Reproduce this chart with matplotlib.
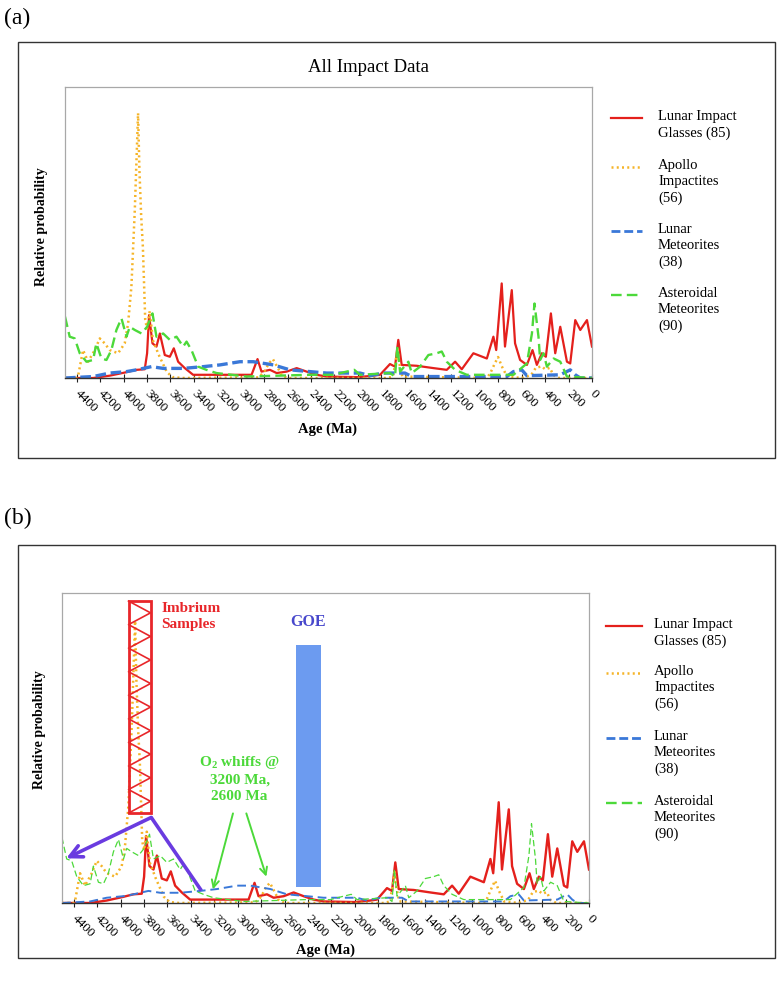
import numpy as np
import matplotlib
matplotlib.use("Agg")
import matplotlib.pyplot as plt
from matplotlib.lines import Line2D
from matplotlib.patches import Rectangle

plt.rcParams['font.family'] = ['Liberation Serif', 'DejaVu Serif']
plt.rcParams['mathtext.fontset'] = 'custom'
plt.rcParams['mathtext.rm'] = 'Liberation Serif'
plt.rcParams['mathtext.bf'] = 'Liberation Serif:bold'

# ---------------- data (age in Ma, relative probability) ----------------
RED_AGE = [4500, 4260, 4118, 3975, 3890, 3819, 3799, 3782, 3753, 3719, 3690, 3648, 3605, 3571, 3534,
           3477, 3406, 2907, 2856, 2822, 2750, 2693, 2607, 2522, 2437, 2352, 2266, 2000, 1867, 1810,
           1725, 1682, 1654, 1625, 1497, 1354, 1240, 1169, 1112, 1013, 898, 842, 818, 771, 743, 685,
           657, 614, 556, 508, 471, 428, 394, 351, 314, 271, 214, 186, 143, 100, 43, 0]
RED_VAL = [0.0, 0.0, 0.008, 0.02, 0.028, 0.03, 0.085, 0.216, 0.119, 0.108, 0.153, 0.079, 0.073, 0.102,
           0.056, 0.034, 0.011, 0.011, 0.065, 0.022, 0.028, 0.017, 0.022, 0.034, 0.022, 0.011, 0.005,
           0.003, 0.008, 0.011, 0.048, 0.039, 0.131, 0.045, 0.042, 0.034, 0.028, 0.056, 0.030, 0.085,
           0.067, 0.142, 0.096, 0.325, 0.108, 0.302, 0.119, 0.062, 0.045, 0.096, 0.045, 0.085, 0.073,
           0.222, 0.085, 0.176, 0.056, 0.05, 0.199, 0.165, 0.199, 0.108]

ORANGE_AGE = [4500, 4400, 4389, 4346, 4303, 4246, 4203, 4161, 4118, 4047, 3990, 3961, 3933, 3904,
              3876, 3865, 3850, 3835, 3815, 3800, 3776, 3750, 3700, 3630, 3580, 3500, 2850, 2800,
              2760, 2725, 2690, 2650, 2600, 1750, 1700, 1675, 1660, 1645, 1620, 900, 870, 830, 802,
              770, 725, 600, 520, 480, 430, 400, 360, 330, 280, 0]
ORANGE_VAL = [0, 0, 0.005, 0.096, 0.056, 0.096, 0.136, 0.119, 0.096, 0.085, 0.119, 0.188, 0.314,
              0.577, 0.91, 0.72, 0.56, 0.45, 0.2, 0.17, 0.23, 0.13, 0.08, 0.02, 0.003, 0, 0.002, 0.02,
              0.05, 0.065, 0.04, 0.01, 0, 0, 0.005, 0.06, 0.1, 0.05, 0.005, 0, 0.015, 0.05, 0.072,
              0.04, 0.005, 0, 0.01, 0.035, 0.04, 0.03, 0.035, 0.01, 0, 0]

BLUE_AGE = [4500, 4260, 4118, 3975, 3890, 3762, 3662, 3491, 3320, 3177, 3006, 2892, 2721, 2579, 2409,
            2266, 1981, 1896, 1782, 1668, 1597, 1539, 727, 671, 600, 556, 271, 186, 143, 100, 0]
BLUE_VAL = [0.0, 0.005, 0.017, 0.022, 0.028, 0.039, 0.033, 0.033, 0.039, 0.045, 0.056, 0.056, 0.045,
            0.028, 0.022, 0.017, 0.017, 0.008, 0.017, 0.017, 0.017, 0.005, 0.005, 0.022, 0.028, 0.008,
            0.011, 0.028, 0.011, 0.0, 0.0]

GREEN_AGE = [4500, 4460, 4417, 4374, 4317, 4260, 4232, 4189, 4146, 4104, 4061, 4018, 3975, 3947, 3904,
             3847, 3799, 3753, 3719, 3662, 3605, 3548, 3491, 3462, 3420, 3363, 3292, 3206, 2950, 2409,
             2209, 2095, 2030, 1981, 1725, 1682, 1662, 1639, 1568, 1539, 1468, 1397, 1326, 1283, 1240,
             1169, 1069, 671, 556, 513, 491, 457, 443, 414, 385, 328, 271, 214, 0]
GREEN_VAL = [0.211, 0.142, 0.136, 0.085, 0.056, 0.062, 0.119, 0.067, 0.062, 0.096, 0.165, 0.205, 0.142,
             0.176, 0.165, 0.153, 0.176, 0.222, 0.142, 0.153, 0.131, 0.142, 0.108, 0.125, 0.096, 0.039,
             0.028, 0.017, 0.005, 0.011, 0.011, 0.022, 0.028, 0.011, 0.017, 0.005, 0.108, 0.022, 0.056,
             0.017, 0.039, 0.079, 0.085, 0.091, 0.056, 0.028, 0.011, 0.011, 0.05, 0.153, 0.256, 0.142,
             0.062, 0.085, 0.039, 0.067, 0.056, 0.005, 0.0]

TICKS = [4400, 4200, 4000, 3800, 3600, 3400, 3200, 3000, 2800, 2600, 2400, 2200, 2000, 1800, 1600,
         1400, 1200, 1000, 800, 600, 400, 200, 0]
TICK_LABELS = [str(t) for t in TICKS]

LEGEND_LABELS = ['Lunar Impact\nGlasses (85)', 'Apollo\nImpactites\n(56)',
                 'Lunar\nMeteorites\n(38)', 'Asteroidal\nMeteorites\n(90)']

RED = '#e4201c'
ORANGE = '#f5b428'
BLUE = '#3a78d8'
GREEN = '#4cd93a'
PURPLE = '#6a3be0'
GOE_BLUE = '#6c9bf0'

W, H = 778, 990
fig = plt.figure(figsize=(W / 100, H / 100), dpi=100)


def fx(x):
    return x / W


def fy(y):
    return 1 - y / H


def axes_px(l, t, r, b):
    return fig.add_axes([fx(l), fy(b), (r - l) / W, (b - t) / H])


def outer_box(l, t, r, b):
    fig.add_artist(Rectangle((fx(l), fy(b)), (r - l) / W, (b - t) / H, transform=fig.transFigure,
                             fill=False, edgecolor='#333333', lw=1.0))


THICK_STYLES = [dict(color=RED, lw=1.6, ls='-'),
                dict(color=ORANGE, lw=1.8, ls=(0, (0.8, 1.3))),
                dict(color=BLUE, lw=2.4, ls=(0, (3.2, 1.4))),
                dict(color=GREEN, lw=1.7, ls=(0, (4.5, 2.2)))]
THIN_STYLES = [dict(color=RED, lw=1.7, ls='-'),
               dict(color=ORANGE, lw=1.8, ls=(0, (0.8, 1.3))),
               dict(color=BLUE, lw=1.4, ls=(0, (4.5, 2.5))),
               dict(color=GREEN, lw=0.9, ls=(0, (5, 2.5)))]


def draw_panel(ax, styles):
    series = [(RED_AGE, RED_VAL), (ORANGE_AGE, ORANGE_VAL), (BLUE_AGE, BLUE_VAL), (GREEN_AGE, GREEN_VAL)]
    for (a, v), st in zip(series, styles):
        ax.plot(a, v, solid_joinstyle='round', **st)
    ax.set_xlim(4500, 0)
    ax.set_ylim(0, 1)
    ax.set_yticks([])
    ax.set_xticks(TICKS)
    ax.set_xticklabels(TICK_LABELS, rotation=-45, ha='left', va='center', rotation_mode='anchor',
                       fontsize=9.5)
    ax.tick_params(axis='x', direction='inout', length=6, width=0.8, color='#222222', pad=7)
    for s in ['left', 'right', 'top']:
        ax.spines[s].set_color('#a8a8a8')
        ax.spines[s].set_linewidth(0.9)
    ax.spines['bottom'].set_color('#333333')
    ax.spines['bottom'].set_linewidth(1.0)


def draw_legend(line_x0, line_x1, text_x, ys):
    for st, lab, y in zip(THICK_STYLES, LEGEND_LABELS, ys):
        fig.add_artist(Line2D([fx(line_x0), fx(line_x1)], [fy(y), fy(y)], transform=fig.transFigure,
                              color=st['color'], lw=min(st['lw'], 2.0), ls=st['ls']))
        fig.text(fx(text_x), fy(y - 8), lab, ha='left', va='top', fontsize=10.5, linespacing=1.3)


# ---------------- panel (a) ----------------
outer_box(18, 42, 775, 458)
fig.text(fx(4), fy(18), '(a)', fontsize=17, ha='left', va='center')
fig.text(fx(368), fy(68), 'All Impact Data', fontsize=13.5, ha='center', va='center')
ax1 = axes_px(65, 87, 592, 378)
draw_panel(ax1, THICK_STYLES)
fig.text(fx(42), fy(227), 'Relative probability', rotation=90, fontsize=10, fontweight='bold',
         ha='center', va='center')
fig.text(fx(327), fy(429), 'Age (Ma)', fontsize=10.5, fontweight='bold', ha='center', va='center')
draw_legend(611, 642, 658, [118, 167, 231, 295])

# ---------------- panel (b) ----------------
outer_box(18, 545, 775, 958)
fig.text(fx(4), fy(518), '(b)', fontsize=17, ha='left', va='center')
ax2 = axes_px(62, 593, 589, 903)
draw_panel(ax2, THIN_STYLES)
fig.text(fx(40), fy(730), 'Relative probability', rotation=90, fontsize=10, fontweight='bold',
         ha='center', va='center')
fig.text(fx(325), fy(950), 'Age (Ma)', fontsize=10.5, fontweight='bold', ha='center', va='center')
draw_legend(606, 642, 654, [626, 673, 738, 803])

# annotations (data coordinates of panel b)
IMB_X0, IMB_X1, IMB_Y0, IMB_Y1 = 3932, 3744, 0.29, 0.974
ax2.add_patch(Rectangle((IMB_X1, IMB_Y0), IMB_X0 - IMB_X1, IMB_Y1 - IMB_Y0, fill=False,
                        edgecolor='#e8262a', lw=2.0, zorder=5))
n_seg = 18
zy = np.linspace(IMB_Y1, IMB_Y0, n_seg + 1)
zx = [IMB_X0 if i % 2 == 0 else IMB_X1 for i in range(n_seg + 1)]
ax2.plot(zx, zy, color='#e8262a', lw=1.2, zorder=5)
ax2.text(3650, 0.97, 'Imbrium\nSamples', color='#e8262a', fontsize=11, fontweight='bold',
         ha='left', va='top', linespacing=1.3, zorder=6)

ax2.text(2400, 0.905, 'GOE', color='#4848cc', fontsize=11.5, fontweight='bold', ha='center',
         va='center', zorder=6)
ax2.add_patch(Rectangle((2291, 0.052), 2504 - 2291, 0.832 - 0.052, facecolor=GOE_BLUE,
                        edgecolor='none', zorder=5))

APEX = (3738, 0.276)
ax2.annotate('', xy=(4464, 0.144), xytext=APEX,
             arrowprops=dict(arrowstyle='->', lw=2.6, color=PURPLE, mutation_scale=22,
                             shrinkA=0, shrinkB=0), zorder=6)
ax2.plot([APEX[0], 3310], [APEX[1], 0.040], color=PURPLE, lw=2.6, solid_capstyle='butt', zorder=6)

ax2.text(2983, 0.403, 'O$_{\\mathbf{2}}$ whiffs @\n3200 Ma,\n2600 Ma', color=GREEN, fontsize=11,
         fontweight='bold', ha='center', va='center', linespacing=1.3, zorder=6)
ax2.annotate('', xy=(3211, 0.044), xytext=(3040, 0.289),
             arrowprops=dict(arrowstyle='->', lw=1.4, color=GREEN, mutation_scale=13,
                             shrinkA=0, shrinkB=0), zorder=6)
ax2.annotate('', xy=(2755, 0.085), xytext=(2926, 0.289),
             arrowprops=dict(arrowstyle='->', lw=1.4, color=GREEN, mutation_scale=13,
                             shrinkA=0, shrinkB=0), zorder=6)

fig.savefig('out.png', dpi=100, facecolor='white')
